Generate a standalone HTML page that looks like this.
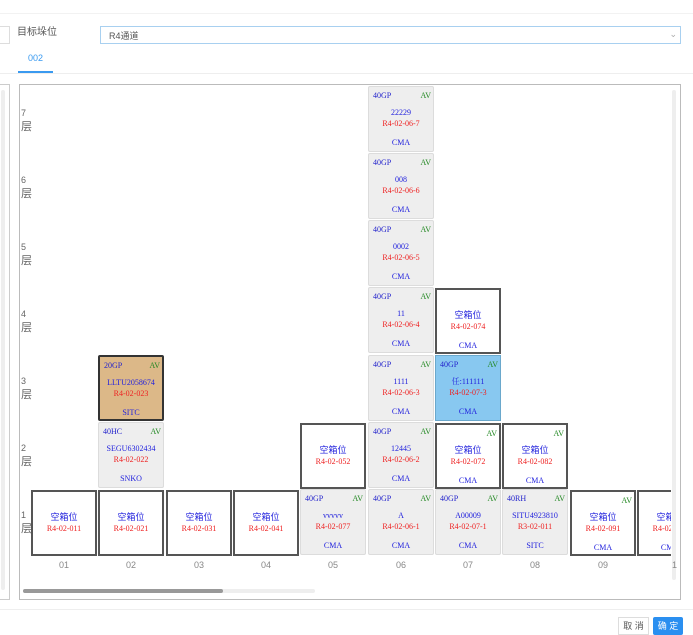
<!DOCTYPE html>
<html><head><meta charset="utf-8"><style>
*{margin:0;padding:0;box-sizing:border-box}
body{width:693px;height:633px;background:#fff;position:relative;overflow:hidden;font-family:"Liberation Sans","Noto Sans CJK SC",sans-serif}
.a{position:absolute}
.c{position:absolute;width:66px;height:66px;font-family:"Liberation Serif","Noto Serif CJK SC",serif;font-size:8px;text-align:center}
.g{background:#eeeeee;border:1px solid #dcdcdc;border-radius:2px}
.w{background:#fff;border:2px solid #555}
.o{background:#dcb888;border:2px solid #333;border-radius:2px}
.b{background:#88c8f0;border:1px solid #6aa8cc}
.c span{position:absolute;left:0;right:0;line-height:10px}
.t{color:#2222cc;text-align:left;left:4px!important;top:4px}
.v{color:#228822;text-align:right;right:2px!important;left:auto!important;top:4px}
.m{color:#2222dd;top:21px}
.r{color:#ee2222;top:32px}
.co{color:#2222dd;top:51px}
.e{color:#2222dd;top:20px;font-family:"Liberation Sans","Noto Sans CJK SC",sans-serif;font-size:9px}
.lbl{position:absolute;font-size:9px;color:#666;line-height:13px}
.lbl b{font-weight:normal;font-size:11px;font-family:"Noto Sans CJK SC",sans-serif}
.col{position:absolute;top:560px;width:66px;text-align:center;font-size:9px;color:#888}
</style></head><body>
<div class="a" style="left:0;top:13px;width:693px;height:1px;background:#f2f2f2"></div>
<div class="a" style="left:-2px;top:26px;width:12px;height:18px;border:1px solid #ddd"></div>
<div class="a" style="left:17px;top:26px;font-size:10px;color:#555;line-height:14px">目标垛位</div>
<div class="a" style="left:100px;top:26px;width:581px;height:18px;border:1px solid #a8d0f0;font-size:9px;color:#555;padding:2px 0 0 8px">R4通道</div>
<div class="a" style="right:16px;top:29px;font-size:9px;color:#aaa">&#8964;</div>
<div class="a" style="left:28px;top:53px;font-size:9px;color:#3a9af0">002</div>
<div class="a" style="left:18px;top:71px;width:35px;height:2px;background:#3a9af0"></div>
<div class="a" style="left:0;top:73px;width:693px;height:1px;background:#eee"></div>
<div class="a" style="left:-2px;top:84px;width:12px;height:516px;border:1px solid #ccc"></div>
<div class="a" style="left:1px;top:90px;width:4px;height:500px;background:#eee;border-radius:2px"></div>
<div class="a" style="left:19px;top:84px;width:662px;height:516px;border:1px solid #bbb"></div>
<div class="a" style="left:23px;top:589px;width:292px;height:4px;background:#eee;border-radius:2px"></div>
<div class="a" style="left:23px;top:589px;width:200px;height:4px;background:#999;border-radius:2px"></div>
<div class="a" style="left:672px;top:90px;width:4px;height:490px;background:#eee;border-radius:2px"></div>
<div class="a" style="left:0;top:609px;width:693px;height:1px;background:#eee"></div>
<div class="a" style="left:618px;top:617px;width:31px;height:18px;border:1px solid #ddd;font-size:9px;color:#555;text-align:center;line-height:16px">取 消</div>
<div class="a" style="left:653px;top:617px;width:30px;height:18px;background:#2a8ff0;border-radius:2px;font-size:9px;color:#fff;text-align:center;line-height:18px">确 定</div>

<div class="lbl" style="left:21px;top:107px">7<br><b>层</b></div>
<div class="lbl" style="left:21px;top:174px">6<br><b>层</b></div>
<div class="lbl" style="left:21px;top:241px">5<br><b>层</b></div>
<div class="lbl" style="left:21px;top:308px">4<br><b>层</b></div>
<div class="lbl" style="left:21px;top:375px">3<br><b>层</b></div>
<div class="lbl" style="left:21px;top:442px">2<br><b>层</b></div>
<div class="lbl" style="left:21px;top:509px">1<br><b>层</b></div>

<div class="col" style="left:31px">01</div><div class="col" style="left:98px">02</div><div class="col" style="left:166px">03</div><div class="col" style="left:233px">04</div><div class="col" style="left:300px">05</div><div class="col" style="left:368px">06</div><div class="col" style="left:435px">07</div><div class="col" style="left:502px">08</div><div class="col" style="left:570px">09</div><div class="col" style="left:637px;width:40px;text-align:right">1</div>

<div class="c g" style="left:368px;top:86px"><span class="t">40GP</span><span class="v">AV</span><span class="m">22229</span><span class="r">R4-02-06-7</span><span class="co">CMA</span></div>
<div class="c g" style="left:368px;top:153px"><span class="t">40GP</span><span class="v">AV</span><span class="m">008</span><span class="r">R4-02-06-6</span><span class="co">CMA</span></div>
<div class="c g" style="left:368px;top:220px"><span class="t">40GP</span><span class="v">AV</span><span class="m">0002</span><span class="r">R4-02-06-5</span><span class="co">CMA</span></div>
<div class="c g" style="left:368px;top:287px"><span class="t">40GP</span><span class="v">AV</span><span class="m">11</span><span class="r">R4-02-06-4</span><span class="co">CMA</span></div>
<div class="c w" style="left:435px;top:288px"><span class="e">空箱位</span><span class="r">R4-02-074</span><span class="co">CMA</span></div>
<div class="c o" style="left:98px;top:355px"><span class="t">20GP</span><span class="v">AV</span><span class="m">LLTU2058674</span><span class="r">R4-02-023</span><span class="co">SITC</span></div>
<div class="c g" style="left:368px;top:355px"><span class="t">40GP</span><span class="v">AV</span><span class="m">1111</span><span class="r">R4-02-06-3</span><span class="co">CMA</span></div>
<div class="c b" style="left:435px;top:355px"><span class="t">40GP</span><span class="v">AV</span><span class="m">任:111111</span><span class="r">R4-02-07-3</span><span class="co">CMA</span></div>
<div class="c g" style="left:98px;top:422px"><span class="t">40HC</span><span class="v">AV</span><span class="m">SEGU6302434</span><span class="r">R4-02-022</span><span class="co">SNKO</span></div>
<div class="c w" style="left:300px;top:423px"><span class="e">空箱位</span><span class="r">R4-02-052</span></div>
<div class="c g" style="left:368px;top:422px"><span class="t">40GP</span><span class="v">AV</span><span class="m">12445</span><span class="r">R4-02-06-2</span><span class="co">CMA</span></div>
<div class="c w" style="left:435px;top:423px"><span class="v">AV</span><span class="e">空箱位</span><span class="r">R4-02-072</span><span class="co">CMA</span></div>
<div class="c w" style="left:502px;top:423px"><span class="v">AV</span><span class="e">空箱位</span><span class="r">R4-02-082</span><span class="co">CMA</span></div>
<div class="c w" style="left:31px;top:490px"><span class="e">空箱位</span><span class="r">R4-02-011</span></div>
<div class="c w" style="left:98px;top:490px"><span class="e">空箱位</span><span class="r">R4-02-021</span></div>
<div class="c w" style="left:166px;top:490px"><span class="e">空箱位</span><span class="r">R4-02-031</span></div>
<div class="c w" style="left:233px;top:490px"><span class="e">空箱位</span><span class="r">R4-02-041</span></div>
<div class="c g" style="left:300px;top:489px"><span class="t">40GP</span><span class="v">AV</span><span class="m">vvvvv</span><span class="r">R4-02-077</span><span class="co">CMA</span></div>
<div class="c g" style="left:368px;top:489px"><span class="t">40GP</span><span class="v">AV</span><span class="m">A</span><span class="r">R4-02-06-1</span><span class="co">CMA</span></div>
<div class="c g" style="left:435px;top:489px"><span class="t">40GP</span><span class="v">AV</span><span class="m">A00009</span><span class="r">R4-02-07-1</span><span class="co">CMA</span></div>
<div class="c g" style="left:502px;top:489px"><span class="t">40RH</span><span class="v">AV</span><span class="m">SITU4923810</span><span class="r">R3-02-011</span><span class="co">SITC</span></div>
<div class="c w" style="left:570px;top:490px"><span class="v">AV</span><span class="e">空箱位</span><span class="r">R4-02-091</span><span class="co">CMA</span></div>
<div class="a" style="left:637px;top:490px;width:34px;height:66px;overflow:hidden"><div class="c w" style="left:0;top:0"><span class="v">AV</span><span class="e">空箱位</span><span class="r">R4-02-101</span><span class="co">CMA</span></div></div>
</body></html>
